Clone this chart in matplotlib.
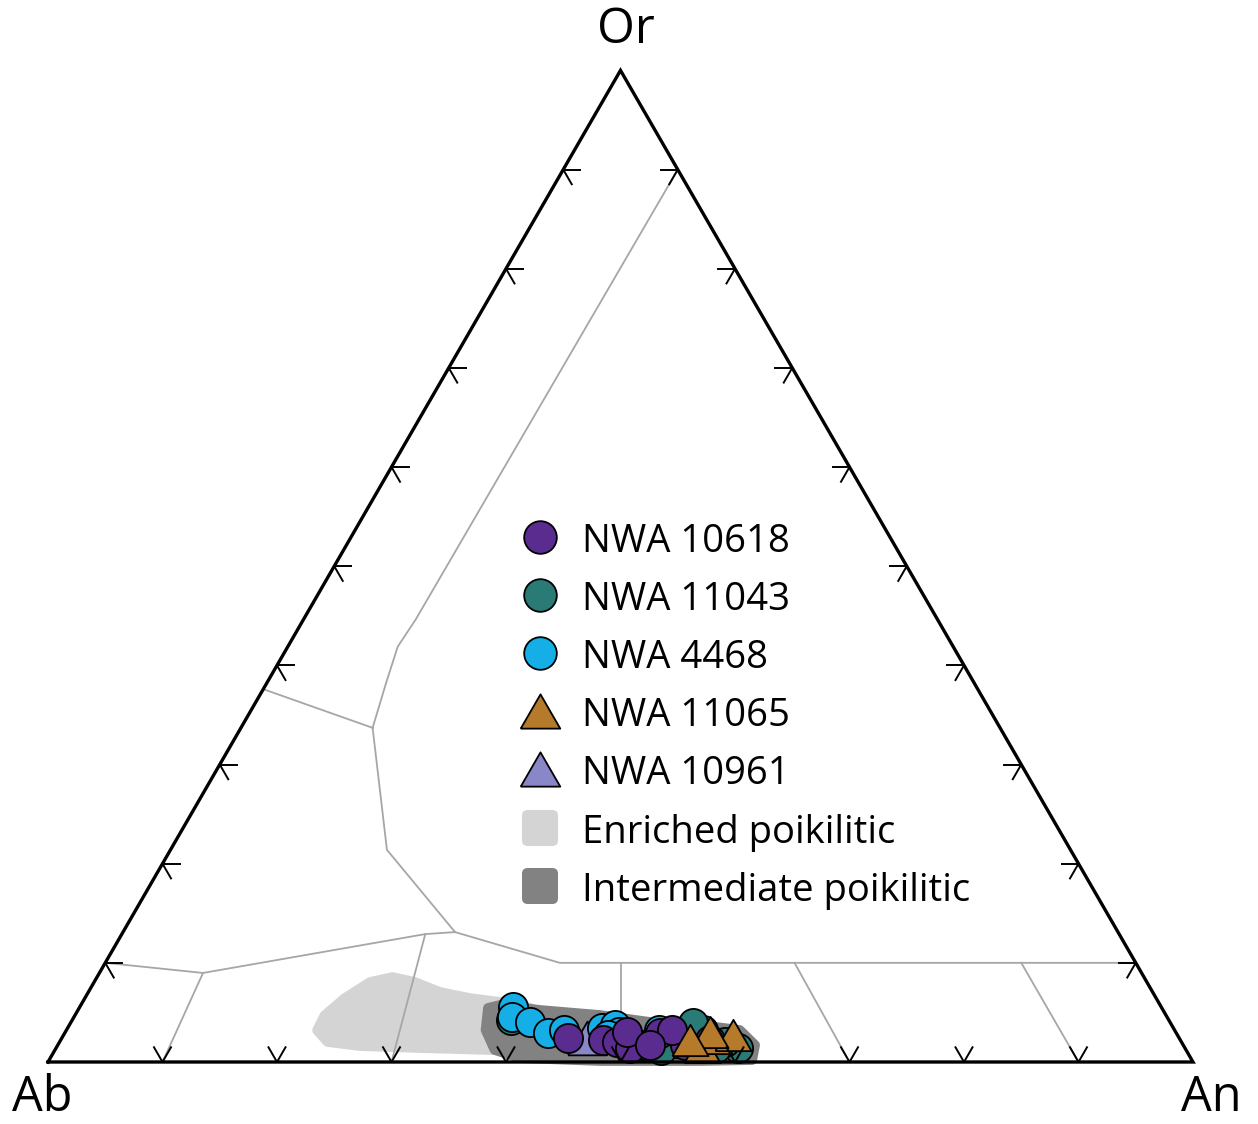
import numpy as np
import matplotlib
matplotlib.use("Agg")
import matplotlib.pyplot as plt
from matplotlib.patches import Polygon, FancyBboxPatch

plt.rcParams['font.family'] = ['Open Sans', 'DejaVu Sans']

# ---------------- data (ternary: An %, Or %; Ab = 100 - An - Or) ----------------
corner_labels = ["Ab", "An", "Or"]

nwa10618_an = [44.2, 47.4, 48.7, 50.1, 49.1, 52.0, 54.8, 52.9, 51.7, 56.7]
nwa10618_or = [2.4, 2.2, 2.0, 1.4, 3.0, 2.9, 1.7, 3.2, 1.7, 2.2]

nwa11043_an = [51.1, 59.6, 54.4, 58.1, 52.9, 57.6, 38.3]
nwa11043_or = [1.7, 1.4, 3.9, 2.0, 1.2, 1.4, 4.2]

nwa4468_an = [37.8, 38.3, 40.1, 42.2, 43.5, 46.7, 47.7, 48.4, 47.6, 51.8, 54.6, 55.6]
nwa4468_or = [5.55, 4.5, 4.0, 2.9, 3.2, 3.4, 3.7, 3.0, 2.7, 3.2, 3.4, 3.2]

nwa11065_an = [56.4, 57.0, 58.5, 56.3, 55.0]
nwa11065_or = [1.5, 2.4, 2.7, 3.0, 2.2]

nwa10961_an = [45.9, 53.4, 56.0]
nwa10961_or = [2.4, 2.1, 2.7]

enriched_an = [21.9, 21.8, 22.7, 24.1, 25.8, 28.0, 30.7, 33.6, 36.5, 39.4, 41.8, 41.5, 38.0, 31.8, 26.4, 23.4]
enriched_or = [3.2, 4.7, 6.45, 8.07, 8.57, 8.07, 7.06, 6.45, 6.05, 5.45, 3.23, 1.21, 1.21, 1.41, 1.61, 2.02]

intermediate_an = [35.7, 36.6, 40.4, 45.8, 50.6, 55.1, 58.8, 60.9, 61.4, 56.9, 48.2, 41.0, 38.4, 36.6]
intermediate_or = [5.45, 5.75, 5.24, 4.74, 4.03, 3.73, 3.23, 1.71, 0.2, 0.1, 0.1, 0.4, 1.21, 3.23]

# feldspar field boundaries (An, Or)
boundaries = [
    [(10, 90), (9.8, 44.6), (9.6, 41.9), (10.35, 38.5), (11.5, 33.7)],
    [(0, 37.6), (11.5, 33.7)],
    [(11.5, 33.7), (18.9, 21.4), (29.0, 13.1)],
    [(29.0, 13.1), (26.5, 12.9), (9.05, 8.98), (0, 10)],
    [(9.05, 8.98), (10, 0)],
    [(26.5, 12.9), (30, 0)],
    [(29.0, 13.1), (39.7, 10), (90, 10)],
    [(45, 10), (50, 0)],
    [(60.2, 10), (70, 0)],
    [(80, 10), (90, 0)],
]

legend_labels = ["NWA 10618", "NWA 11043", "NWA 4468", "NWA 11065", "NWA 10961",
                 "Enriched poikilitic", "Intermediate poikilitic"]

# ---------------- styling ----------------
c_purple = "#5b2c8f"
c_teal = "#2a7a76"
c_cyan = "#15aee6"
c_orange = "#b67a2b"
c_lav = "#8a87c8"
c_light = "#d4d4d4"
c_dark = "#828282"
c_line = "#a6a6a6"

H = np.sqrt(3) / 2


def tern(an, orr):
    an = np.asarray(an, float) / 100.0
    orr = np.asarray(orr, float) / 100.0
    return an + orr / 2.0, orr * H


def X(px):
    return (px - 48) / 1145.0


def Y(py):
    return (1062 - py) / 1145.0


fig = plt.figure(figsize=(12.58, 11.24), dpi=100)
ax = fig.add_axes([0, 0, 1, 1])
ax.set_xlim(X(0), X(1258))
ax.set_ylim(Y(1124), Y(0))
ax.axis('off')

# fields
for an, orr, col in [(enriched_an, enriched_or, c_light), (intermediate_an, intermediate_or, c_dark)]:
    x, y = tern(an, orr)
    ax.add_patch(Polygon(np.column_stack([x, y]), closed=True, facecolor=col, edgecolor=col,
                         lw=7, joinstyle='round', zorder=1))

# boundaries
for seg in boundaries:
    a = [p[0] for p in seg]
    o = [p[1] for p in seg]
    x, y = tern(a, o)
    ax.plot(x, y, color=c_line, lw=1.3, zorder=2, solid_joinstyle='round')

# triangle outline
tx = [0, 1, 0.5, 0]
ty = [0, 0, H, 0]
ax.plot(tx, ty, color='black', lw=2.4, zorder=6, solid_joinstyle='miter', solid_capstyle='projecting')

# ticks (arrow-like)
L = 17 / 1145.0
c60, s60 = 0.5, H
tk = dict(color='black', lw=1.4, zorder=6)
for k in range(1, 10):
    f = k / 10.0
    # bottom: V
    bx, by = f, 0.0
    ax.plot([bx - L * c60, bx, bx + L * c60], [by + L * s60, by, by + L * s60], **tk)
    # left: <
    lx, ly = f / 2.0, f * H
    ax.plot([lx + L * c60, lx, lx + L * c60], [ly + L * s60, ly, ly - L * s60], **tk)
    ax.plot([lx, lx + L], [ly, ly], **tk)
    # right: >
    rx, ry = 1 - f / 2.0, f * H
    ax.plot([rx - L * c60, rx, rx - L * c60], [ry + L * s60, ry, ry - L * s60], **tk)
    ax.plot([rx, rx - L], [ry, ry], **tk)

tri = [(-1, -0.866), (1, -0.866), (0, 0.866), (-1, -0.866)]

# data
series = [
    (nwa11043_an[-1:], nwa11043_or[-1:], c_teal, 'o', 21),
    (nwa10961_an, nwa10961_or, c_lav, tri, 28),
    (nwa4468_an, nwa4468_or, c_cyan, 'o', 21),
    (nwa11043_an[:-1], nwa11043_or[:-1], c_teal, 'o', 21),
    (nwa10618_an, nwa10618_or, c_purple, 'o', 21),
    (nwa11065_an, nwa11065_or, c_orange, tri, 26),
]
for i, (an, orr, col, mk, ms) in enumerate(series):
    x, y = tern(an, orr)
    ax.scatter(x, y, s=ms ** 2, marker=mk, facecolor=col, edgecolor='black', linewidth=1.3, zorder=3 + i * 0.1)

# corner labels
fs_corner = 35
ax.text(X(42), Y(1098), corner_labels[0], fontsize=fs_corner, ha='center', va='center')
ax.text(X(1211), Y(1098), corner_labels[1], fontsize=fs_corner, ha='center', va='center')
ax.text(X(626), Y(30), corner_labels[2], fontsize=fs_corner, ha='center', va='center')

# legend (manual)
rows_y = [537, 595, 653, 711, 769, 828, 886]
leg_handles = [(c_purple, 'o', 23.5), (c_teal, 'o', 23.5), (c_cyan, 'o', 23.5),
               (c_orange, tri, 28.5), (c_lav, tri, 28.5), (c_light, 'box', 0), (c_dark, 'box', 0)]
for (col, mk, ms), lab, py in zip(leg_handles, legend_labels, rows_y):
    if mk == 'box':
        w = 36 / 1145.0
        ax.add_patch(FancyBboxPatch((X(540) - w / 2 + 0.005, Y(py) - w / 2 + 0.005), w - 0.010, w - 0.010,
                                    boxstyle="round,pad=0.005", facecolor=col, edgecolor='none', zorder=4))
    else:
        ax.scatter([X(540)], [Y(py)], s=ms ** 2, marker=mk, facecolor=col, edgecolor='black',
                   linewidth=1.3, zorder=4)
    ax.text(X(582), Y(py), lab, fontsize=27.5, ha='left', va='center_baseline', zorder=4)

fig.savefig("out.png", dpi=100)
